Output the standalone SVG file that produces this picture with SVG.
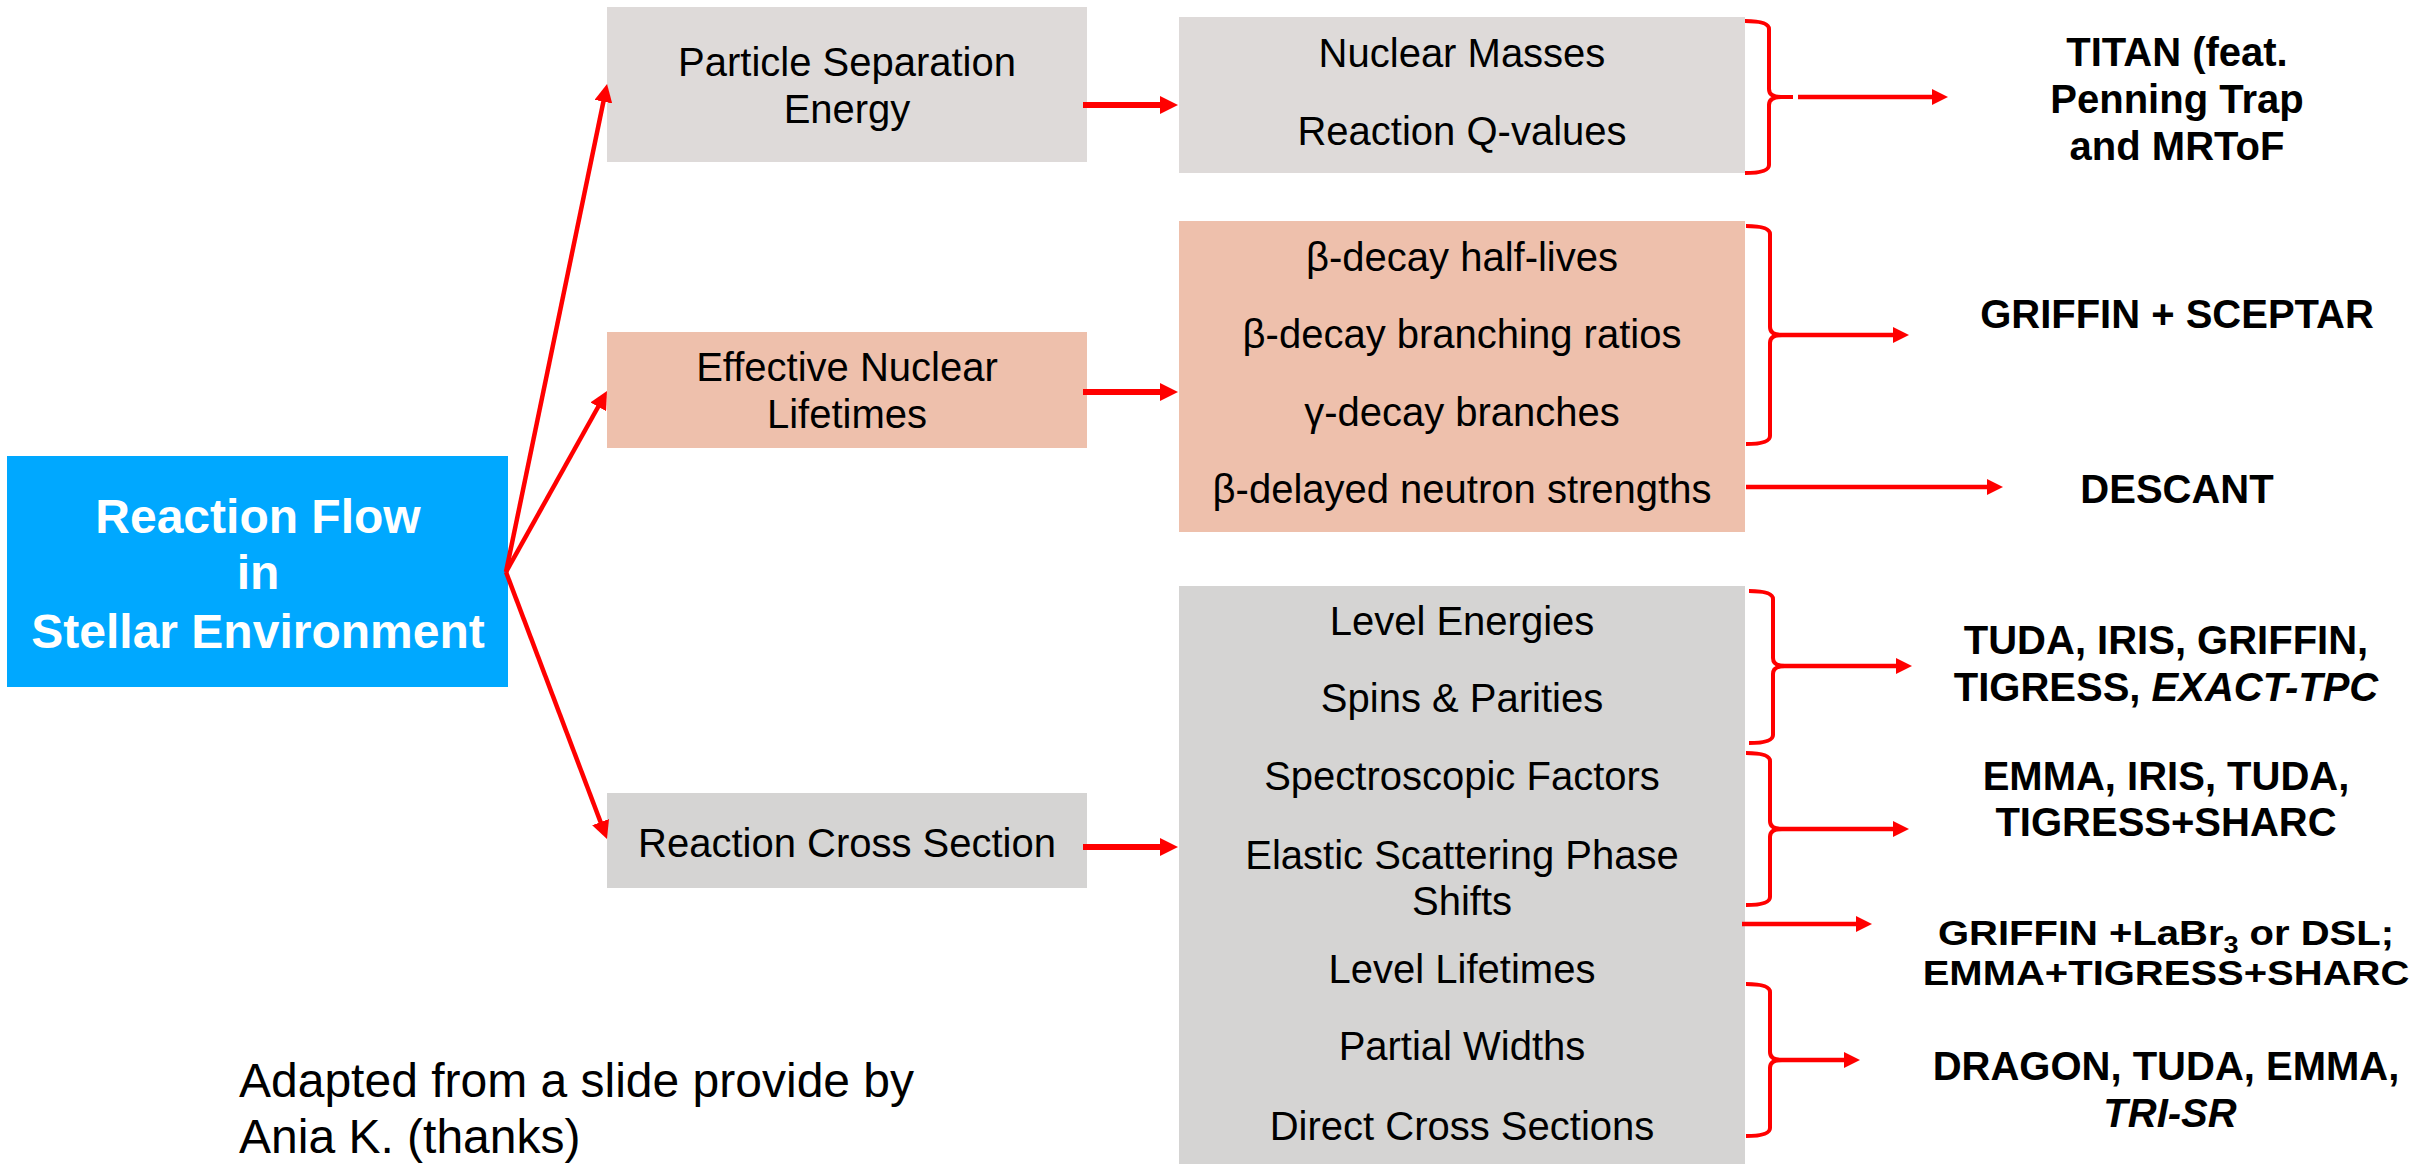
<svg xmlns="http://www.w3.org/2000/svg" width="2430" height="1164" viewBox="0 0 2430 1164">
<style>
.t{font-family:"Liberation Sans",Arial,Helvetica,sans-serif;font-size:40px;text-anchor:middle;fill:#000}
.b{font-weight:bold}
.i{font-style:italic}
.w{fill:#fff;font-size:48px;font-weight:bold}
.note{font-family:"Liberation Sans",Arial,Helvetica,sans-serif;font-size:48px;fill:#000}
.g1{fill:#DEDAD9}
.g2{fill:#D5D4D3}
.or{fill:#EEC0AC}
.bl{fill:#00A8FF}
.c{fill:none;stroke:#FF0000;stroke-width:4.5}
.thick{stroke-width:6}
.br{fill:none;stroke:#FF0000;stroke-width:4;stroke-linecap:butt;stroke-linejoin:round}
</style>
<defs>
<marker id="ah" markerUnits="userSpaceOnUse" viewBox="0 0 18 18" markerWidth="18" markerHeight="18" refX="2" refY="9" orient="auto">
<path d="M0,0 L18,9 L0,18 z" fill="#FF0000"/>
</marker>
<marker id="ah2" markerUnits="userSpaceOnUse" viewBox="0 0 16 16" markerWidth="16" markerHeight="16" refX="2" refY="8" orient="auto">
<path d="M0,0 L16,8 L0,16 z" fill="#FF0000"/>
</marker>
</defs>

<g id="node-reaction-flow">
<rect class="bl" x="7" y="456" width="501" height="231"/>
<text class="t w" x="258" y="533">Reaction Flow</text>
<text class="t w" x="258" y="589">in</text>
<text class="t w" x="258" y="648">Stellar Environment</text>
</g>

<g id="node-separation-energy">
<rect class="g1" x="607" y="7" width="480" height="155"/>
<text class="t" x="847" y="76">Particle Separation</text>
<text class="t" x="847" y="123">Energy</text>
</g>

<g id="node-lifetimes">
<rect class="or" x="607" y="332" width="480" height="116"/>
<text class="t" x="847" y="381">Effective Nuclear</text>
<text class="t" x="847" y="428">Lifetimes</text>
</g>

<g id="node-cross-section">
<rect class="g2" x="607" y="793" width="480" height="95"/>
<text class="t" x="847" y="857">Reaction Cross Section</text>
</g>

<g id="node-masses">
<rect class="g1" x="1179" y="17" width="566" height="156"/>
<text class="t" x="1462" y="67">Nuclear Masses</text>
<text class="t" x="1462" y="145">Reaction Q-values</text>
</g>

<g id="node-decay">
<rect class="or" x="1179" y="221" width="566" height="311"/>
<text class="t" x="1462" y="271">β-decay half-lives</text>
<text class="t" x="1462" y="348">β-decay branching ratios</text>
<text class="t" x="1462" y="426">γ-decay branches</text>
<text class="t" x="1462" y="503">β-delayed neutron strengths</text>
</g>

<g id="node-levels">
<rect class="g2" x="1179" y="586" width="566" height="578"/>
<text class="t" x="1462" y="635">Level Energies</text>
<text class="t" x="1462" y="712">Spins &amp; Parities</text>
<text class="t" x="1462" y="790">Spectroscopic Factors</text>
<text class="t" x="1462" y="869">Elastic Scattering Phase</text>
<text class="t" x="1462" y="915">Shifts</text>
<text class="t" x="1462" y="983">Level Lifetimes</text>
<text class="t" x="1462" y="1060">Partial Widths</text>
<text class="t" x="1462" y="1140">Direct Cross Sections</text>
</g>

<g id="node-titan">
<text class="t b" x="2177" y="66">TITAN (feat.</text>
<text class="t b" x="2177" y="113">Penning Trap</text>
<text class="t b" x="2177" y="160">and MRToF</text>
</g>

<g id="node-griffin-sceptar">
<text class="t b" x="2177" y="328">GRIFFIN + SCEPTAR</text>
</g>

<g id="node-descant">
<text class="t b" x="2177" y="503">DESCANT</text>
</g>

<g id="node-tuda-iris">
<text class="t b" x="2166" y="654">TUDA, IRIS, GRIFFIN,</text>
<text class="t b" x="2166" y="701">TIGRESS, <tspan class="i">EXACT-TPC</tspan></text>
</g>

<g id="node-emma-iris">
<text class="t b" x="2166" y="790">EMMA, IRIS, TUDA,</text>
<text class="t b" x="2166" y="836">TIGRESS+SHARC</text>
</g>

<g id="node-griffin-labr">
<g transform="translate(0 945) scale(1 0.86)">
<text class="t b" x="2166" y="0">GRIFFIN +LaBr<tspan font-size="27" dy="9">3</tspan><tspan dy="-9"> or DSL;</tspan></text>
<text class="t b" x="2166" y="47">EMMA+TIGRESS+SHARC</text>
</g>
</g>

<g id="node-dragon">
<text class="t b" x="2166" y="1080">DRAGON, TUDA, EMMA,</text>
<text class="t b i" x="2170" y="1127">TRI-SR</text>
</g>

<g id="note">
<text class="note" x="239" y="1097">Adapted from a slide provide by</text>
<text class="note" x="239" y="1153">Ania K. (thanks)</text>
</g>

<g id="connectors">
<line class="c" x1="506" y1="572" x2="603.8" y2="99.7" marker-end="url(#ah)"/>
<line class="c" x1="506" y1="572" x2="599.2" y2="405" marker-end="url(#ah)"/>
<line class="c" x1="506" y1="572" x2="601.3" y2="824" marker-end="url(#ah)"/>

<line class="c thick" x1="1083" y1="105" x2="1162" y2="105" marker-end="url(#ah)"/>
<line class="c thick" x1="1083" y1="392" x2="1162" y2="392" marker-end="url(#ah)"/>
<line class="c thick" x1="1083" y1="847" x2="1162" y2="847" marker-end="url(#ah)"/>

<path class="br" d="M1745,21 Q1769,21 1769,29 V89 Q1769,97 1781,97 Q1769,97 1769,105 V165 Q1769,173 1745,173 M1775,97 H1793"/>
<line class="c" x1="1798" y1="97" x2="1934" y2="97" marker-end="url(#ah2)"/>

<path class="br" d="M1746,226 Q1770,226 1770,234 V327 Q1770,335 1782,335 Q1770,335 1770,343 V436 Q1770,444 1746,444"/>
<line class="c" x1="1774" y1="335" x2="1895" y2="335" marker-end="url(#ah2)"/>

<line class="c" x1="1746" y1="487" x2="1989" y2="487" marker-end="url(#ah2)"/>

<path class="br" d="M1749,591 Q1773,591 1773,599 V658 Q1773,666 1785,666 Q1773,666 1773,674 V735 Q1773,743 1749,743"/>
<line class="c" x1="1777" y1="666" x2="1898" y2="666" marker-end="url(#ah2)"/>

<path class="br" d="M1746,753 Q1770,753 1770,761 V821 Q1770,829 1782,829 Q1770,829 1770,837 V897 Q1770,905 1746,905"/>
<line class="c" x1="1774" y1="829" x2="1895" y2="829" marker-end="url(#ah2)"/>

<line class="c" x1="1742" y1="924" x2="1858" y2="924" marker-end="url(#ah2)"/>

<path class="br" d="M1746,984 Q1770,984 1770,992 V1052 Q1770,1060 1782,1060 Q1770,1060 1770,1068 V1128 Q1770,1136 1746,1136"/>
<line class="c" x1="1774" y1="1060" x2="1846" y2="1060" marker-end="url(#ah2)"/>
</g>
</svg>
